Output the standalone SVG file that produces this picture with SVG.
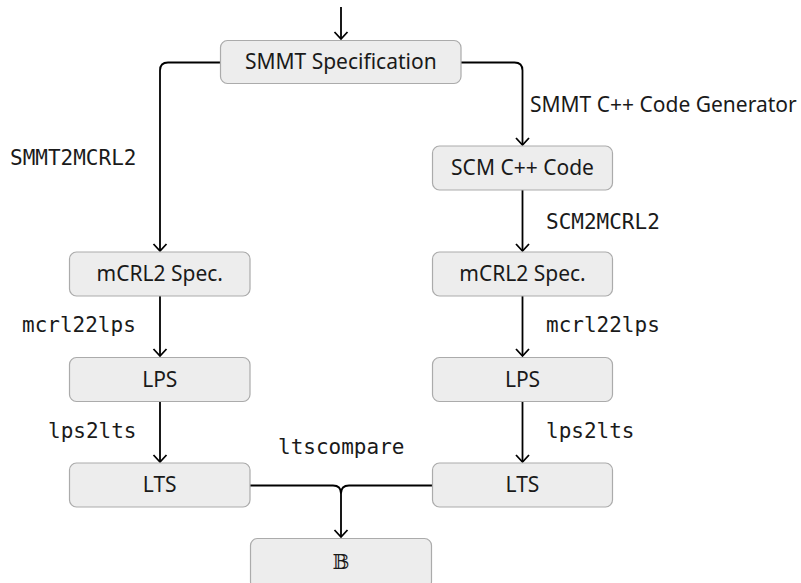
<svg xmlns="http://www.w3.org/2000/svg" width="801" height="583" viewBox="0 0 801 583">
  <defs>
    <marker id="arrow" viewBox="-10 -8 12 16" refX="0" refY="0" markerWidth="12" markerHeight="16" markerUnits="userSpaceOnUse" orient="auto">
      <path d="M-7,-6.5 L0,0 L-7,6.5" fill="none" stroke="#000" stroke-width="1.8" stroke-linejoin="miter"/>
    </marker>
    <style>
      .box { fill: #ededed; stroke: #ababab; stroke-width: 1.2; }
      .lbl { font-family: "Noto Sans", "Open Sans", sans-serif; font-size: 21px; fill: #1a1a1a; text-anchor: middle; }
      .side { font-family: "Noto Sans", "Open Sans", sans-serif; font-size: 21px; fill: #1a1a1a; }
      .tool { font-family: "DejaVu Sans Mono", monospace; font-size: 21px; fill: #1a1a1a; }
      .edge { fill: none; stroke: #000; stroke-width: 1.8; }
      .bool { font-family: "DejaVu Serif", "DejaVu Sans", serif; font-size: 20px; fill: #1a1a1a; text-anchor: middle; }
    </style>
  </defs>

  <!-- connectors -->
  <g id="connectors">
    <path class="edge" d="M341,7 V39" marker-end="url(#arrow)"/>
    <path class="edge" d="M220,62.5 H168 Q160,62.5 160,70.5 V251" marker-end="url(#arrow)"/>
    <path class="edge" d="M461,62.5 H514.5 Q522.5,62.5 522.5,70.5 V145" marker-end="url(#arrow)"/>
    <path class="edge" d="M522.5,190 V251" marker-end="url(#arrow)"/>
    <path class="edge" d="M160,296 V356" marker-end="url(#arrow)"/>
    <path class="edge" d="M522.5,296 V356" marker-end="url(#arrow)"/>
    <path class="edge" d="M160,402 V462" marker-end="url(#arrow)"/>
    <path class="edge" d="M522.5,402 V462" marker-end="url(#arrow)"/>
    <path class="edge" d="M250,485.5 H333 Q341,485.5 341,493.5 V537" marker-end="url(#arrow)"/>
    <path class="edge" d="M432,485.5 H349 Q341,485.5 341,493.5"/>
  </g>

  <!-- edge labels -->
  <g id="edge-labels">
    <text class="side" x="530" y="111.5">SMMT C++ Code Generator</text>
    <text class="tool" x="10" y="165">SMMT2MCRL2</text>
    <text class="tool" x="546" y="229">SCM2MCRL2</text>
    <text class="tool" x="22" y="332">mcrl22lps</text>
    <text class="tool" x="546" y="332">mcrl22lps</text>
    <text class="tool" x="48" y="437.5">lps2lts</text>
    <text class="tool" x="546" y="437.5">lps2lts</text>
    <text class="tool" x="278" y="454">ltscompare</text>
  </g>

  <!-- nodes -->
  <g id="smmt-spec">
    <rect class="box" x="220.5" y="40.5" width="240.5" height="43" rx="7"/>
    <text class="lbl" x="340.75" y="69">SMMT Specification</text>
  </g>
  <g id="scm-code">
    <rect class="box" x="432.5" y="146" width="180" height="44" rx="7"/>
    <text class="lbl" x="522.5" y="175">SCM C++ Code</text>
  </g>
  <g id="mcrl2-left">
    <rect class="box" x="69.5" y="252" width="180.5" height="44" rx="7"/>
    <text class="lbl" x="159.75" y="281">mCRL2 Spec.</text>
  </g>
  <g id="mcrl2-right">
    <rect class="box" x="432.5" y="252" width="180" height="44" rx="7"/>
    <text class="lbl" x="522.5" y="281">mCRL2 Spec.</text>
  </g>
  <g id="lps-left">
    <rect class="box" x="69.5" y="357.5" width="180.5" height="44" rx="7"/>
    <text class="lbl" x="159.75" y="386.5">LPS</text>
  </g>
  <g id="lps-right">
    <rect class="box" x="432.5" y="357.5" width="180" height="44" rx="7"/>
    <text class="lbl" x="522.5" y="386.5">LPS</text>
  </g>
  <g id="lts-left">
    <rect class="box" x="69.5" y="463" width="180.5" height="44" rx="7"/>
    <text class="lbl" x="159.75" y="492">LTS</text>
  </g>
  <g id="lts-right">
    <rect class="box" x="432.5" y="463" width="180" height="44" rx="7"/>
    <text class="lbl" x="522.5" y="492">LTS</text>
  </g>
  <g id="result">
    <rect class="box" x="250.5" y="538.5" width="181" height="50" rx="7"/>
    <text class="bool" x="341" y="569">𝔹</text>
  </g>
</svg>
